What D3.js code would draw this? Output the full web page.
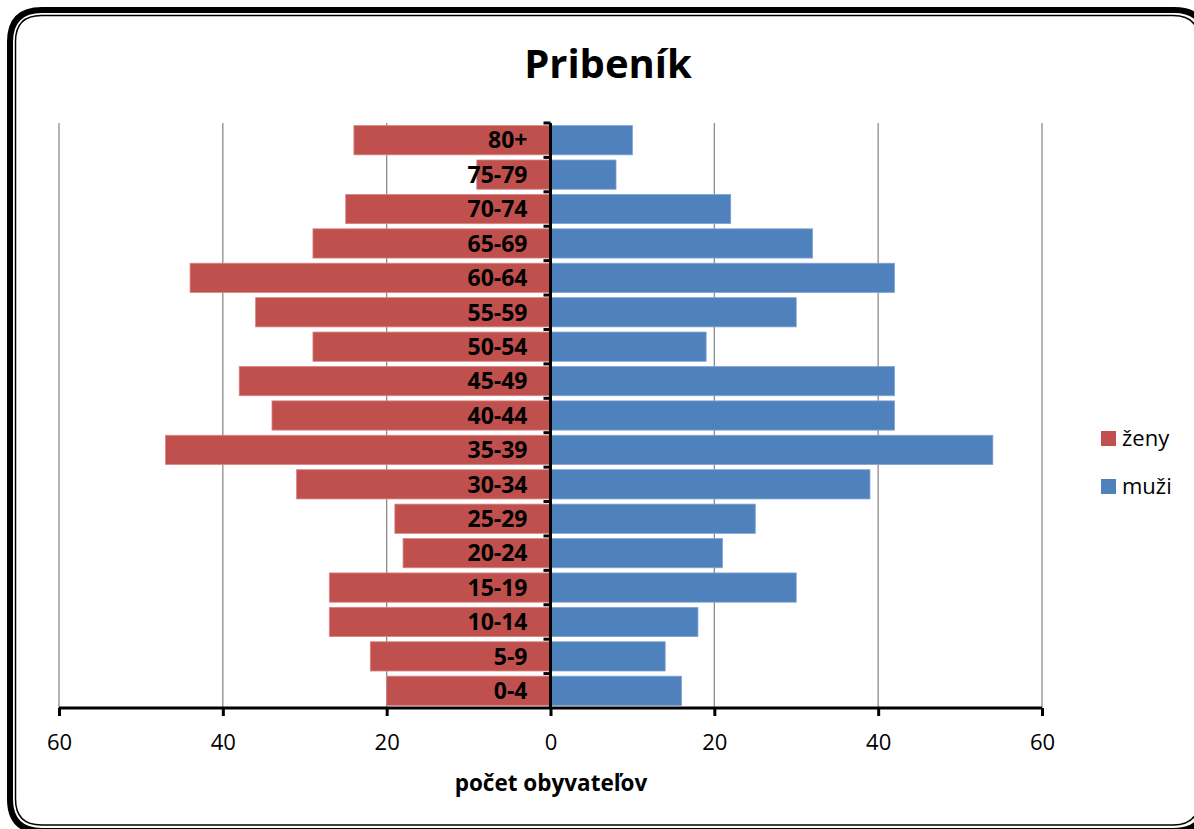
<!DOCTYPE html>
<html>
<head>
<meta charset="utf-8">
<script src="https://d3js.org/d3.v7.min.js"></script>
<style>
body { margin: 0; background: #fff; }
text { font-family: "Open Sans", "Noto Sans", sans-serif; }
</style>
</head>
<body>
<div id="graf"></div>
<script>
var width = 1194;
var height = 829;

// data
var vekoveSkupiny = ["0-4", "5-9", "10-14", "15-19", "20-24", "25-29", "30-34", "35-39", "40-44",
                     "45-49", "50-54", "55-59", "60-64", "65-69", "70-74", "75-79", "80+"];
var zeny = [20, 22, 27, 27, 18, 19, 31, 47, 34, 38, 29, 36, 44, 29, 25, 9, 24];
var muzi = [16, 14, 18, 30, 21, 25, 39, 54, 42, 42, 19, 30, 42, 32, 22, 8, 10];
var ticky = [-60, -40, -20, 0, 20, 40, 60];
var legenda = ["ženy", "muži"];
var farby = ["#C0504D", "#4F81BD"];

var canvas = d3.select("#graf")
				.append("svg")
				.attr("width", width)
				.attr("height", height);

// ramik okolo grafu (dvojita ciara)
function ramik(x1, y1, x2, y2, r) {
	return "M" + (x1 + r) + "," + y1 +
		" L" + (x2 - r) + "," + y1 +
		" Q" + x2 + "," + y1 + " " + x2 + "," + (y1 + r) +
		" L" + x2 + "," + (y2 - r) +
		" Q" + x2 + "," + y2 + " " + (x2 - r) + "," + y2 +
		" L" + (x1 + r) + "," + y2 +
		" Q" + x1 + "," + y2 + " " + x1 + "," + (y2 - r) +
		" L" + x1 + "," + (y1 + r) +
		" Q" + x1 + "," + y1 + " " + (x1 + r) + "," + y1 + " Z";
}
canvas.append("path")
		.attr("d", ramik(10, 10, 1206, 831, 32))
		.attr("fill", "none")
		.attr("stroke", "black")
		.attr("stroke-width", 6);
canvas.append("path")
		.attr("d", ramik(15.5, 15.5, 1199, 825, 26))
		.attr("fill", "none")
		.attr("stroke", "black")
		.attr("stroke-width", 1.5);

// nadpis
canvas.append("text")
		.attr("x", 608)
		.attr("y", 78)
		.attr("text-anchor", "middle")
		.style("font-size", "40px")
		.style("font-weight", "bold")
		.text("Pribeník");

// skaly
var x = d3.scaleLinear()
			.domain([-60, 60])
			.range([59, 1042]);

var y = d3.scaleBand()
			.domain(vekoveSkupiny.slice().reverse())
			.range([123, 708])
			.paddingInner(0.15)
			.paddingOuter(0.075);

// mriezka
var grupo_mriezka = canvas.append("g");
ticky.filter(function(t) { return t != 0; }).forEach(function(t) {
	grupo_mriezka.append("line")
			.attr("x1", x(t))
			.attr("x2", x(t))
			.attr("y1", 123)
			.attr("y2", 708)
			.attr("stroke", "#8c8c8c")
			.attr("stroke-width", 1.3);
});

// stlpce
var grupo_stlpce = canvas.append("g");
grupo_stlpce.selectAll(".zeny")
		.data(vekoveSkupiny)
		.enter()
		.append("rect")
		.attr("x", function(d, i) { return x(-zeny[i]); })
		.attr("y", function(d) { return y(d); })
		.attr("width", function(d, i) { return x(0) - x(-zeny[i]); })
		.attr("height", y.bandwidth())
		.attr("fill", farby[0])
		.attr("stroke", "#d98583")
		.attr("stroke-width", 0.8);

grupo_stlpce.selectAll(".muzi")
		.data(vekoveSkupiny)
		.enter()
		.append("rect")
		.attr("x", x(0))
		.attr("y", function(d) { return y(d); })
		.attr("width", function(d, i) { return x(muzi[i]) - x(0); })
		.attr("height", y.bandwidth())
		.attr("fill", farby[1])
		.attr("stroke", "#82a5d3")
		.attr("stroke-width", 0.8);

// popisky vekovych skupin
canvas.append("g")
		.selectAll("text")
		.data(vekoveSkupiny)
		.enter()
		.append("text")
		.attr("x", x(0) - 23)
		.attr("y", function(d) { return y(d) + y.bandwidth() / 2; })
		.attr("dy", "0.36em")
		.attr("text-anchor", "end")
		.style("font-size", "23px")
		.style("font-weight", "bold")
		.text(function(d) { return d; });

// vodorovna os
var osX = d3.axisBottom(x)
			.tickValues(ticky)
			.tickSize(8)
			.tickFormat(function(d) { return Math.abs(d); });

var gx = canvas.append("g")
		.attr("transform", "translate(0,708)")
		.call(osX);
gx.select(".domain")
		.attr("stroke-width", 3)
		.attr("d", "M" + x(-60) + ",0H" + x(60));
gx.selectAll(".tick line")
		.attr("stroke-width", 3);
gx.selectAll(".tick text")
		.attr("y", 26)
		.style("font-family", "'Open Sans', sans-serif")
		.style("font-size", "22px")
		.attr("fill", "black");

// zvisla os
var osY = d3.axisLeft(y).tickSize(0).tickFormat("");
var gy = canvas.append("g")
		.attr("transform", "translate(" + x(0) + ",0)")
		.call(osY);
gy.select(".domain")
		.attr("stroke-width", 3)
		.attr("d", "M0,123V708");
// ticky medzi kategoriami
var hranice = d3.range(vekoveSkupiny.length).map(function(i) { return 123 + i * (708 - 123) / vekoveSkupiny.length; });
gy.selectAll(".hranica")
		.data(hranice)
		.enter()
		.append("line")
		.attr("x1", -7)
		.attr("x2", 0)
		.attr("y1", function(d) { return d; })
		.attr("y2", function(d) { return d; })
		.attr("stroke", "black")
		.attr("stroke-width", 3);

// nazov osi
canvas.append("text")
		.attr("x", 551)
		.attr("y", 791)
		.attr("text-anchor", "middle")
		.style("font-size", "22.5px")
		.style("font-weight", "bold")
		.text("počet obyvateľov");

// legenda
var grupo_legenda = canvas.append("g");
for (i = 0; i < legenda.length; i++)
{
	grupo_legenda.append("rect")
			.attr("x", 1101)
			.attr("y", 431 + i * 48)
			.attr("width", 15)
			.attr("height", 15)
			.attr("fill", farby[i]);
	grupo_legenda.append("text")
			.attr("x", 1122)
			.attr("y", 446 + i * 48)
			.style("font-size", "22px")
			.text(legenda[i]);
}
</script>
</body>
</html>
